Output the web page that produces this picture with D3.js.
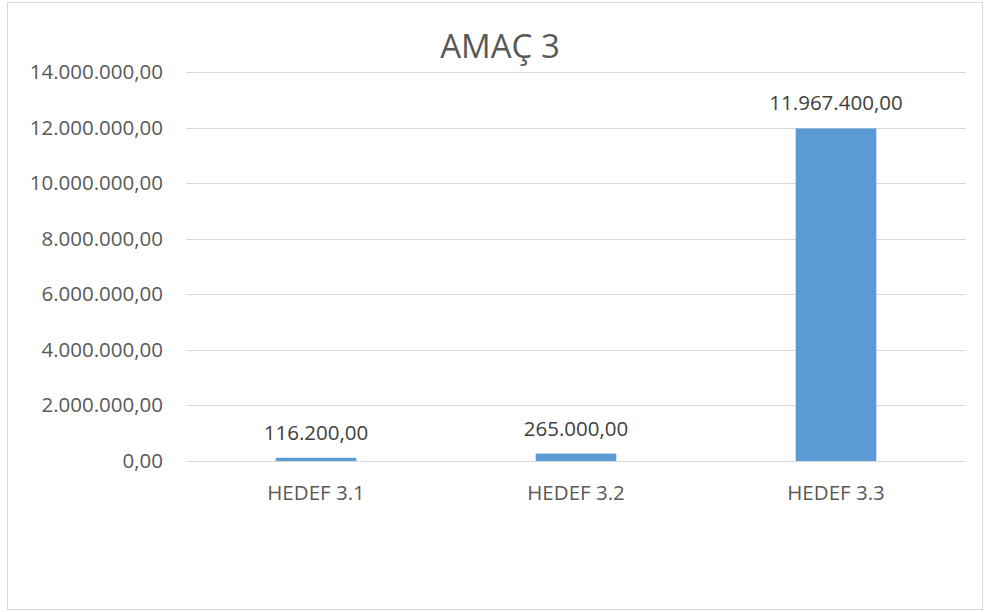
<!DOCTYPE html>
<html>
<head>
<meta charset="utf-8">
<script src="https://cdn.jsdelivr.net/npm/d3@7"></script>
<style>
  body { margin: 0; background: #fff; }
  text { font-family: "Open Sans", sans-serif; fill: #595959; }
</style>
</head>
<body>
<svg id="chart" width="986" height="612"></svg>
<script>
var categories = ["HEDEF 3.1", "HEDEF 3.2", "HEDEF 3.3"];
var values = [116200, 265000, 11967400];
var yTicks = [0, 2000000, 4000000, 6000000, 8000000, 10000000, 12000000, 14000000];
var title = "AMAÇ 3";

var FS = 20.5;
var plot = { left: 186, right: 966, top: 72, bottom: 461 };

var svg = d3.select("#chart");

// outer frame
svg.append("rect")
  .attr("x", 7.5).attr("y", 2.5)
  .attr("width", 975).attr("height", 607)
  .attr("fill", "#fff")
  .attr("stroke", "#d9d9d9")
  .attr("stroke-width", 1);

var x = d3.scaleBand()
  .domain(categories)
  .range([plot.left, plot.right])
  .paddingInner(0.69)
  .paddingOuter(0.345);

var y = d3.scaleLinear()
  .domain([0, 14000000])
  .range([plot.bottom, plot.top]);

// turkish number format: 14.000.000,00
var fmt = d3.formatLocale({ decimal: ",", thousands: ".", grouping: [3], currency: ["", ""] }).format(",.2f");

// gridlines
svg.append("g")
  .selectAll("line")
  .data(yTicks)
  .enter().append("line")
  .attr("x1", plot.left).attr("x2", plot.right)
  .attr("y1", function(d) { return Math.round(y(d)) + 0.5; })
  .attr("y2", function(d) { return Math.round(y(d)) + 0.5; })
  .attr("stroke", "#d9d9d9")
  .attr("stroke-width", 1);

// y labels
var yAxis = d3.axisLeft(y).tickValues(yTicks).tickFormat(fmt).tickSize(0).tickPadding(23);
var gy = svg.append("g")
  .attr("transform", "translate(" + plot.left + ",0)")
  .call(yAxis);
gy.select(".domain").remove();
gy.selectAll("text")
  .style("font-family", "\"Open Sans\", sans-serif")
  .style("font-size", FS + "px")
  .attr("fill", "#595959");

// bars
svg.append("g")
  .selectAll("rect")
  .data(values)
  .enter().append("rect")
  .attr("x", function(d, i) { return x(categories[i]); })
  .attr("width", x.bandwidth())
  .attr("y", function(d) { return y(d); })
  .attr("height", function(d) { return y(0) - y(d); })
  .attr("fill", "#5b9bd5");

// value labels
svg.append("g")
  .selectAll("text")
  .data(values)
  .enter().append("text")
  .attr("x", function(d, i) { return x(categories[i]) + x.bandwidth() / 2; })
  .attr("y", function(d) { return y(d) - 18; })
  .attr("text-anchor", "middle")
  .style("font-size", FS + "px")
  .style("fill", "#404040")
  .text(function(d) { return fmt(d); });

// x labels
var xAxis = d3.axisBottom(x).tickSize(0).tickPadding(24);
var gx = svg.append("g")
  .attr("transform", "translate(0," + plot.bottom + ")")
  .call(xAxis);
gx.select(".domain").remove();
gx.selectAll("text")
  .style("font-family", "\"Open Sans\", sans-serif")
  .style("font-size", FS + "px")
  .attr("fill", "#595959");

// title
svg.append("text")
  .attr("x", 500).attr("y", 58)
  .attr("text-anchor", "middle")
  .style("font-size", "33px")
  .text(title);
</script>
</body>
</html>
